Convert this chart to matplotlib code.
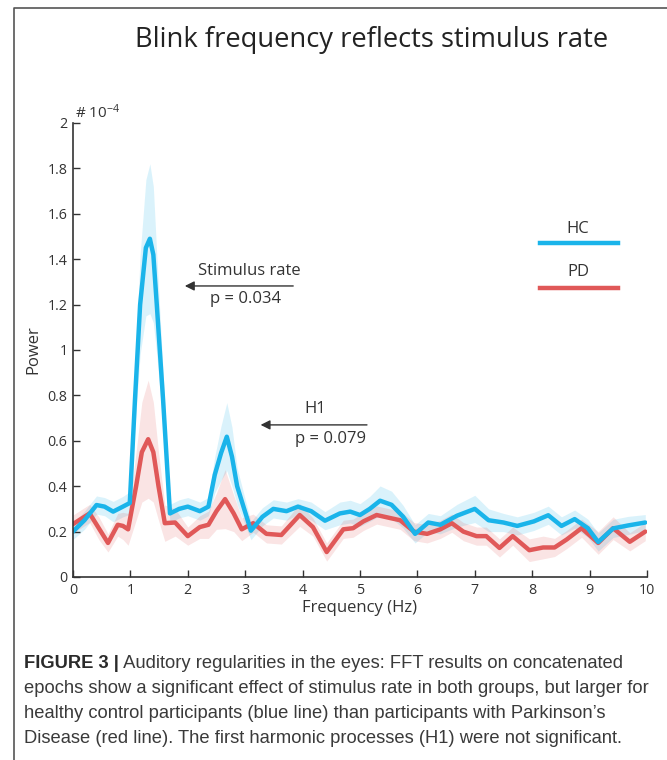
import numpy as np
import matplotlib.pyplot as plt
from matplotlib.lines import Line2D

# HC (healthy controls) - blue
hc_freq = [0.0, 0.2, 0.41, 0.55, 0.70, 0.87, 0.99, 1.08, 1.17, 1.27, 1.34, 1.40, 1.46, 1.57, 1.69,
           1.85, 2.0, 2.21, 2.36, 2.47, 2.58, 2.68, 2.77, 2.86, 3.10, 3.30, 3.49, 3.72, 3.92, 4.15,
           4.39, 4.65, 4.83, 5.0, 5.17, 5.35, 5.55, 5.75, 5.96, 6.19, 6.40, 6.69, 7.0, 7.24, 7.50,
           7.74, 8.03, 8.28, 8.51, 8.74, 8.97, 9.15, 9.41, 9.67, 9.97]
hc_power = [0.20, 0.25, 0.317, 0.31, 0.288, 0.31, 0.326, 0.78, 1.2, 1.45, 1.49, 1.42, 1.2, 0.78, 0.28,
            0.30, 0.31, 0.29, 0.31, 0.45, 0.546, 0.618, 0.53, 0.40, 0.204, 0.265, 0.30, 0.29, 0.31, 0.29,
            0.248, 0.28, 0.288, 0.273, 0.30, 0.336, 0.318, 0.266, 0.19, 0.24, 0.23, 0.27, 0.30, 0.25, 0.24,
            0.225, 0.245, 0.272, 0.225, 0.255, 0.215, 0.154, 0.214, 0.227, 0.24]
hc_err = [0.035, 0.04, 0.04, 0.04, 0.045, 0.045, 0.05, 0.12, 0.22, 0.30, 0.33, 0.30, 0.22, 0.12, 0.04,
          0.04, 0.04, 0.04, 0.04, 0.08, 0.12, 0.15, 0.13, 0.08, 0.04, 0.04, 0.04, 0.04, 0.035, 0.04,
          0.04, 0.05, 0.05, 0.05, 0.055, 0.065, 0.06, 0.05, 0.04, 0.04, 0.04, 0.05, 0.06, 0.05, 0.04,
          0.04, 0.04, 0.04, 0.04, 0.04, 0.04, 0.04, 0.04, 0.04, 0.035]

# PD (Parkinson's disease) - red
pd_freq = [0.0, 0.29, 0.45, 0.61, 0.78, 0.87, 0.96, 1.1, 1.2, 1.31, 1.40, 1.49, 1.60, 1.78,
           2.0, 2.21, 2.36, 2.50, 2.65, 2.80, 2.94, 3.14, 3.37, 3.63, 3.95, 4.18, 4.42,
           4.71, 4.88, 5.06, 5.29, 5.52, 5.70, 5.94, 6.17, 6.40, 6.60, 6.80, 7.03, 7.20, 7.43,
           7.66, 7.95, 8.19, 8.39, 8.60, 8.86, 9.15, 9.41, 9.70, 9.97]
pd_power = [0.233, 0.28, 0.215, 0.15, 0.23, 0.225, 0.21, 0.40, 0.55, 0.607, 0.55, 0.40, 0.237, 0.24,
            0.18, 0.22, 0.23, 0.29, 0.343, 0.28, 0.21, 0.237, 0.19, 0.185, 0.273, 0.22, 0.11,
            0.21, 0.215, 0.245, 0.273, 0.26, 0.25, 0.20, 0.19, 0.21, 0.237, 0.20, 0.18, 0.18, 0.128,
            0.18, 0.118, 0.13, 0.13, 0.165, 0.215, 0.15, 0.215, 0.155, 0.20]
pd_err = [0.04, 0.04, 0.05, 0.04, 0.05, 0.06, 0.07, 0.15, 0.22, 0.26, 0.22, 0.15, 0.08, 0.06,
          0.04, 0.05, 0.06, 0.08, 0.13, 0.08, 0.05, 0.04, 0.04, 0.04, 0.05, 0.04, 0.04,
          0.04, 0.04, 0.04, 0.04, 0.04, 0.04, 0.04, 0.04, 0.04, 0.04, 0.04, 0.04, 0.04, 0.04,
          0.04, 0.05, 0.05, 0.04, 0.04, 0.04, 0.05, 0.05, 0.04, 0.04]

caption_head = 'FIGURE 3 |'
caption_lines = [' Auditory regularities in the eyes: FFT results on concatenated',
                 'epochs show a significant effect of stimulus rate in both groups, but larger for',
                 'healthy control participants (blue line) than participants with Parkinson\u2019s',
                 'Disease (red line). The first harmonic processes (H1) were not significant.']

blue = '#1ab4ea'
red = '#e05858'
txt = '#333333'
plt.rcParams['font.family'] = ['Open Sans', 'DejaVu Sans']
plt.rcParams['mathtext.default'] = 'regular'

fig = plt.figure(figsize=(6.67, 7.6), dpi=100)
ax = fig.add_axes([0.1094, 0.2408, 0.8606, 0.5974])

hf, hp, he = np.array(hc_freq), np.array(hc_power), np.array(hc_err)
pf, pp, pe = np.array(pd_freq), np.array(pd_power), np.array(pd_err)

ax.fill_between(hf, hp - he, hp + he, color=blue, alpha=0.16, lw=0)
ax.fill_between(pf, pp - pe, pp + pe, color=red, alpha=0.16, lw=0)
ax.plot(pf, pp, color=red, lw=3.2, solid_joinstyle='round', solid_capstyle='round')
ax.plot(hf, hp, color=blue, lw=3.2, solid_joinstyle='round', solid_capstyle='round')

ax.set_xlim(0, 10)
ax.set_ylim(0, 2)
ax.set_xticks(range(0, 11))
ax.set_yticks(np.arange(0, 2.01, 0.2))
ax.set_yticklabels(['0', '0.2', '0.4', '0.6', '0.8', '1', '1.2', '1.4', '1.6', '1.8', '2'])
ax.tick_params(direction='in', length=5, width=1, colors=txt, labelsize=10.3, pad=4)
for s in ['top', 'right']:
    ax.spines[s].set_visible(False)
for s in ['left', 'bottom']:
    ax.spines[s].set_color(txt)
    ax.spines[s].set_linewidth(1.2)

ax.set_xlabel('Frequency (Hz)', fontsize=12, color=txt, labelpad=2)
ax.set_ylabel('Power', fontsize=12, color=txt, labelpad=4)
ax.text(0.003, 1.002, '# 10$^{-4}$', transform=ax.transAxes, fontsize=11, color=txt,
        va='bottom', ha='left')

# annotations
ax.text(3.08, 1.348, 'Stimulus rate', fontsize=12, color=txt, ha='center', va='center')
ax.annotate('', xy=(1.90, 1.282), xytext=(3.885, 1.282),
            arrowprops=dict(arrowstyle='-|>', color=txt, lw=1, mutation_scale=14))
ax.text(3.0, 1.225, 'p = 0.034', fontsize=12, color=txt, ha='center', va='center')

ax.text(4.22, 0.74, 'H1', fontsize=12, color=txt, ha='center', va='center')
ax.annotate('', xy=(3.22, 0.67), xytext=(5.17, 0.67),
            arrowprops=dict(arrowstyle='-|>', color=txt, lw=1, mutation_scale=14))
ax.text(4.48, 0.61, 'p = 0.079', fontsize=12, color=txt, ha='center', va='center')

# legend
ax.text(8.8, 1.535, 'HC', fontsize=12, color=txt, ha='center', va='center')
ax.plot([8.14, 9.49], [1.47, 1.47], color=blue, lw=3.2)
ax.text(8.8, 1.345, 'PD', fontsize=12, color=txt, ha='center', va='center')
ax.plot([8.14, 9.49], [1.273, 1.273], color=red, lw=3.2)

fig.text(0.557, 0.947, 'Blink frequency reflects stimulus rate', fontsize=19.7,
         color='#222222', ha='center', va='center')

# frame
fig.add_artist(Line2D([14 / 667, 14 / 667, 1.0], [0.0, 1 - 8 / 760, 1 - 8 / 760],
                      color='#555555', lw=1.2))

# caption: fit the longest line to the width seen in the reference
cap_font = ['Liberation Sans', 'DejaVu Sans']
renderer = fig.canvas.get_renderer()
probe = fig.text(0, 0, caption_lines[1], fontsize=13, family=cap_font)
w = probe.get_window_extent(renderer).width
probe.remove()
cap_size = 13 * 626 / w

head = fig.text(24 / 667, 1 - 668 / 760, caption_head, fontsize=cap_size, fontweight='bold',
                color='#2a2a2a', family=cap_font, va='baseline')
hx = head.get_window_extent(renderer).x1 / fig.bbox.width
fig.text(hx, 1 - 668 / 760, caption_lines[0], fontsize=cap_size, color='#3a3a3a',
         family=cap_font, va='baseline')
for i, ln in enumerate(caption_lines[1:]):
    fig.text(24 / 667, 1 - (693 + 25 * i) / 760, ln, fontsize=cap_size, color='#3a3a3a',
             family=cap_font, va='baseline')

fig.savefig('out.png', dpi=100)
